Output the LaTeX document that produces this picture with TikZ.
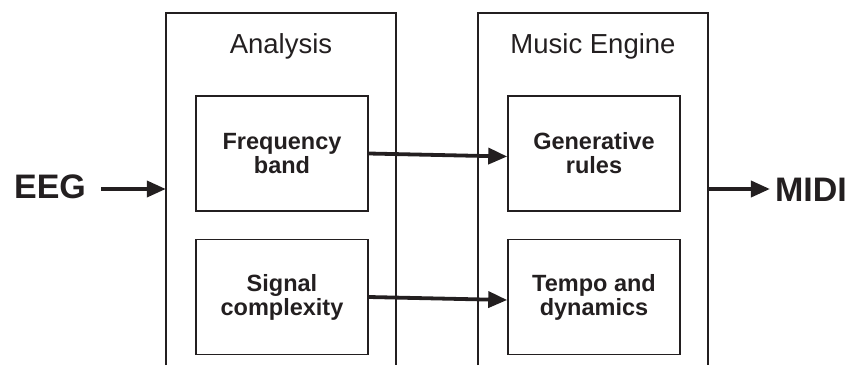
\documentclass[tikz,border=0pt]{standalone}
\usepackage{fontspec}
\setmainfont{Liberation Sans}
\usetikzlibrary{arrows.meta}
\definecolor{ink}{RGB}{35,31,32}

\begin{document}
\begin{tikzpicture}[x=1pt, y=-1pt, color=ink,
		stage/.style={minimum width=230pt, minimum height=352pt, inner sep=0pt},
		title/.style={font=\fontsize{27.5}{30}\selectfont},
		block/.style={draw, line width=1.6pt, minimum width=172pt, minimum height=115pt, inner sep=0pt, align=center, font=\fontsize{23.5}{24}\selectfont\bfseries},
		io/.style={inner sep=0pt, font=\fontsize{34}{36}\selectfont\bfseries},
		flow/.style={line width=3.8pt, -{Triangle[length=19pt, width=16pt]}}]
		\useasboundingbox (0,0) rectangle (856,375);
		% outer stages, open at the bottom
		\node[stage] (ana) at (281,189) {};
		\node[stage] (eng) at (593,189) {};
		\draw[line width=1.5pt] (ana.south west) -- (ana.north west) -- (ana.north east) -- (ana.south east);
		\draw[line width=1.5pt] (eng.south west) -- (eng.north west) -- (eng.north east) -- (eng.south east);
		\node[title] (anatitle) at ([yshift=-34pt]ana.north) {Analysis};
		\node[title] (engtitle) at ([yshift=-34pt]eng.north) {Music Engine};
		% blocks
		\node[block] (freq) at (282,153.5) {Frequency\\band};
		\node[block] (sig) at (282,297) {Signal\\complexity};
		\node[block] (gen) at (594,153.5) {Generative\\rules};
		\node[block] (tempo) at (594,297) {Tempo and\\dynamics};
		% input and output
		\node[io] (eeg) at (50,187) {EEG};
		\node[io] (midi) at (811,190) {MIDI};
		\draw[flow, shorten <=15pt] (eeg.east |- ana.west) -- (ana.west);
		\draw[flow, shorten >=5pt] (eng.east) -- (midi.west |- eng.east);
		\draw[flow] (freq.east) -- ([yshift=-3pt]gen.west);
		\draw[flow] (sig.east) -- ([yshift=-3pt]tempo.west);
	\end{tikzpicture}
\end{document}
